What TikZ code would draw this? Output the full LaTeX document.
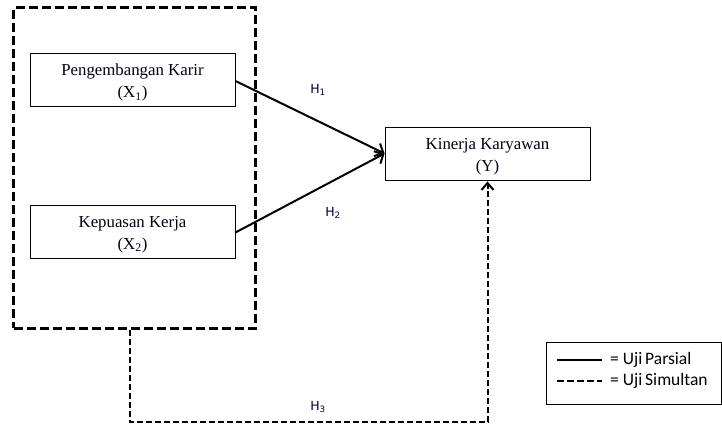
\documentclass[tikz,border=0pt]{standalone}
\usepackage{fontspec}
\setmainfont{Liberation Serif}
\newfontfamily\hfont{DejaVu Sans}
\newfontfamily\legfont{Carlito}
\usetikzlibrary{arrows.meta}
\begin{document}
\begin{tikzpicture}[x=1pt,y=-1pt,
  varbox/.style={draw=black,line width=0.9pt,minimum width=205pt,minimum height=53pt,inner sep=0pt},
  vartext/.style={align=center,inner sep=0pt,font=\fontsize{16.8}{22}\selectfont,text=black!92!blue},
  grpbox/.style={draw=black,line width=3pt,dash pattern=on 9pt off 4pt,minimum width=242pt,minimum height=320pt,inner sep=0pt},
  partial/.style={line width=2pt,-{Straight Barb[length=7pt,width=14pt,line width=2pt]}},
  simul/.style={line width=2pt,dash pattern=on 6pt off 3pt},
  hlab/.style={font=\hfont\fontsize{12.5}{14}\selectfont,text=black!80!blue,inner sep=0pt},
  legtext/.style={font=\legfont\fontsize{17.5}{19}\selectfont,anchor=west,inner sep=0pt}]
\useasboundingbox (0,0) rectangle (722,425);
\node[grpbox] (grp) at (134.5,168) {};
\node[varbox] (x1) at (132.5,79.5) {};
\node[varbox] (x2) at (132.5,231.5) {};
\node[varbox] (y) at (487.5,153.5) {};
\node[vartext] (x1t) at ([yshift=-3pt]x1.center) {Pengembangan Karir\\(X\textsubscript{1})};
\node[vartext] (x2t) at ([yshift=-3pt]x2.center) {Kepuasan Kerja\\(X\textsubscript{2})};
\node[vartext] (yt) at ([yshift=-3pt]y.center) {Kinerja Karyawan\\(Y)};
\draw[partial] ([yshift=-1.5pt]x1.east) -- (y.west);
\draw[partial] ([yshift=-1pt]x2.east) -- (y.west);
\node[hlab] (h1) at (318,90) {H\textsubscript{1}};
\node[hlab] (h2) at (333,213) {H\textsubscript{2}};
\node[hlab] (h3) at (318,407) {H\textsubscript{3}};
\coordinate (c1) at (130,422);
\draw[simul] (grp.south -| c1) -- (c1) -| ([yshift=-6pt]y.south);
\draw[line width=2pt,-{Straight Barb[length=7pt,width=12pt,line width=2pt]}] ([yshift=-9pt]y.south) -- ([yshift=-1pt]y.south);
\node[draw=black,line width=1pt,minimum width=175pt,minimum height=62pt,inner sep=0pt] (leg) at (634,373) {};
\coordinate (la) at (557,360);
\coordinate (lb) at (602,360);
\coordinate (lc) at (557,381);
\coordinate (ld) at (602,381);
\draw[line width=2pt] (la) -- (lb);
\draw[line width=2pt,dash pattern=on 7pt off 3pt] (lc) -- (ld);
\node[legtext] (lp) at (610,360) {= Uji\,Parsial};
\node[legtext] (ls) at (610,381) {= Uji\,Simultan};
\end{tikzpicture}
\end{document}
